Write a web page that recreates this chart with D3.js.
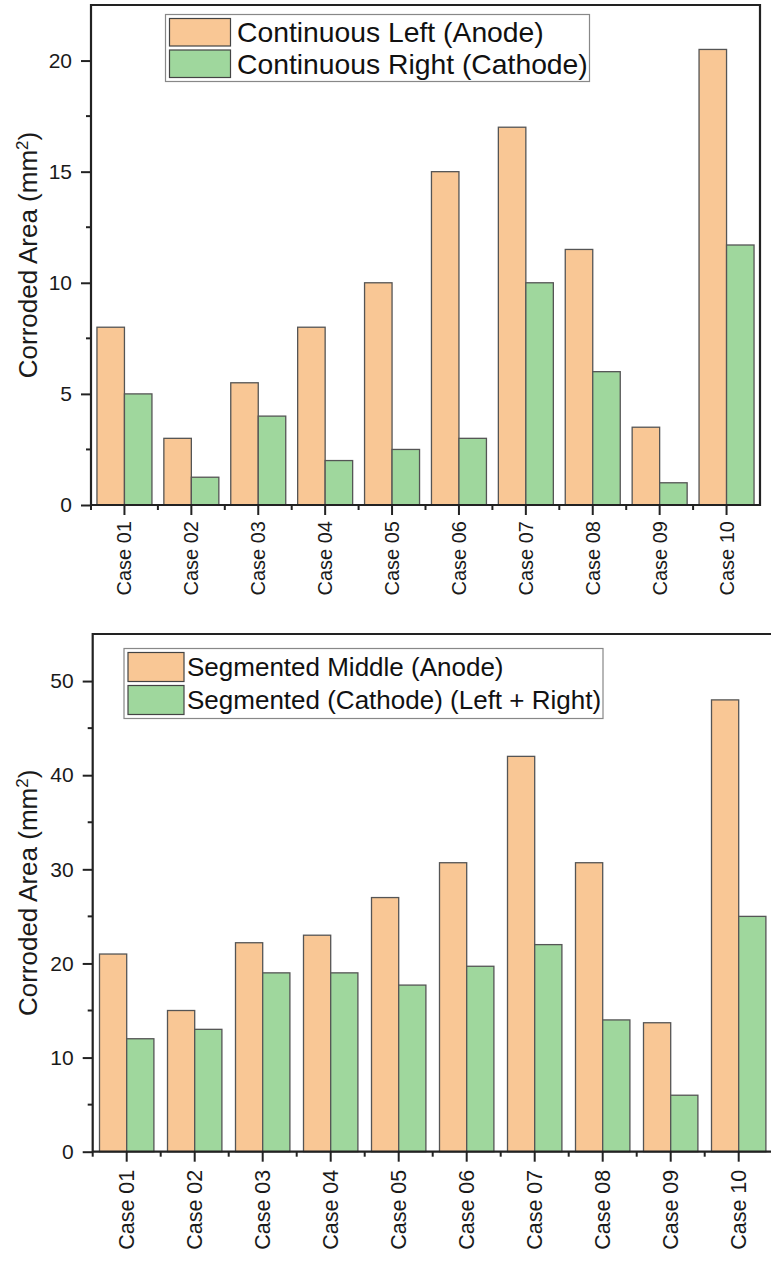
<!DOCTYPE html>
<html>
<head>
<meta charset="utf-8" />
<title>Corroded Area by Case</title>
<script src="https://cdnjs.cloudflare.com/ajax/libs/d3/7.8.5/d3.min.js"></script>
<style>
	body { margin: 0; background: #fff; }
	svg { display: block; font-family: "Liberation Sans", Arial, sans-serif; }
</style>
</head>
<body>
<svg id="chart" width="771" height="1269"></svg>
<script>
// data
const cases = ["Case 01", "Case 02", "Case 03", "Case 04", "Case 05", "Case 06", "Case 07", "Case 08", "Case 09", "Case 10"];

const contLeft  = [8, 3, 5.5, 8, 10, 15, 17, 11.5, 3.5, 20.5];
const contRight = [5, 1.25, 4, 2, 2.5, 3, 10, 6, 1, 11.7];

const segMiddle  = [21, 15, 22.2, 23, 27, 30.7, 42, 30.7, 13.7, 48];
const segCathode = [12, 13, 19, 19, 17.7, 19.7, 22, 14, 6, 25];

const topLegend = ["Continuous Left (Anode)", "Continuous Right (Cathode)"];
const bottomLegend = ["Segmented Middle (Anode)", "Segmented (Cathode) (Left + Right)"];

const topMajor = [0, 5, 10, 15, 20];
const topMinor = [2.5, 7.5, 12.5, 17.5];
const bottomMajor = [0, 10, 20, 30, 40, 50];
const bottomMinor = [5, 15, 25, 35, 45];

const colors = ["#f9c795", "#9fd79d"];

let svg = d3.select("#chart");

function drawPanel(p) {
	let g = svg.append("g");

	let x = d3.scaleBand()
		.domain(cases)
		.range([p.left, p.right])
		.paddingInner(p.pad)
		.paddingOuter(p.pad / 2);
	let sub = d3.scaleBand()
		.domain([0, 1])
		.range([0, x.bandwidth()]);
	let y = d3.scaleLinear()
		.domain(p.domain)
		.range([p.bottom, p.top]);

	// bars
	let series = [p.a, p.b];
	series.forEach(function(vals, s) {
		g.append("g").selectAll("rect")
			.data(vals)
			.enter()
			.append("rect")
			.attr("x", (d, i) => x(cases[i]) + sub(s))
			.attr("y", d => y(d))
			.attr("width", sub.bandwidth())
			.attr("height", d => y(0) - y(d))
			.attr("fill", colors[s])
			.attr("stroke", "#555")
			.attr("stroke-width", 1.3);
	});

	// y axis, major + minor
	let yAxis = d3.axisLeft(y)
		.tickValues(p.major)
		.tickSize(10)
		.tickPadding(9)
		.tickFormat(d3.format("d"));
	let ya = g.append("g")
		.attr("transform", `translate(${p.left},0)`)
		.call(yAxis);
	ya.select(".domain").remove();
	ya.selectAll("line").attr("stroke", "#222").attr("stroke-width", 2);
	ya.selectAll("text")
		.attr("font-size", 21)
		.attr("fill", "#1a1a1a")
		.attr("font-family", "Liberation Sans, Arial, sans-serif");

	g.append("g").selectAll("line")
		.data(p.minor)
		.enter()
		.append("line")
		.attr("x1", p.left - 5)
		.attr("x2", p.left)
		.attr("y1", d => y(d))
		.attr("y2", d => y(d))
		.attr("stroke", "#222")
		.attr("stroke-width", 2);

	// x axis ticks at the centre of every group and minor ones between groups
	g.append("g").selectAll("line")
		.data(cases)
		.enter()
		.append("line")
		.attr("x1", d => x(d) + x.bandwidth() / 2)
		.attr("x2", d => x(d) + x.bandwidth() / 2)
		.attr("y1", p.bottom)
		.attr("y2", p.bottom + 10)
		.attr("stroke", "#222")
		.attr("stroke-width", 2);

	let edges = cases.map(d => x(d) - x.step() * p.pad / 2);
	g.append("g").selectAll("line")
		.data(edges)
		.enter()
		.append("line")
		.attr("x1", d => d)
		.attr("x2", d => d)
		.attr("y1", p.bottom)
		.attr("y2", p.bottom + 5)
		.attr("stroke", "#222")
		.attr("stroke-width", 2);

	g.append("g").selectAll("text")
		.data(cases)
		.enter()
		.append("text")
		.attr("transform", d => `translate(${x(d) + x.bandwidth() / 2},${p.bottom + p.labelGap}) rotate(-90)`)
		.attr("text-anchor", "end")
		.attr("dy", "0.35em")
		.attr("font-size", p.caseSize)
		.attr("fill", "#1a1a1a")
		.text(d => d);

	// frame
	g.append("path")
		.attr("d", `M${p.left},${p.bottom}V${p.top}H${p.frameRight}V${p.bottom}Z`)
		.attr("fill", "none")
		.attr("stroke", "#222")
		.attr("stroke-width", 2.2);

	// axis title
	let title = g.append("text")
		.attr("transform", `translate(37,${(p.top + p.bottom) / 2}) rotate(-90)`)
		.attr("text-anchor", "middle")
		.attr("font-size", 26)
		.attr("fill", "#1a1a1a");
	title.append("tspan").text("Corroded Area (mm");
	title.append("tspan").attr("baseline-shift", "super").attr("font-size", 17).text("2");
	title.append("tspan").text(")");

	// legend
	let L = p.legend;
	let lg = g.append("g");
	lg.append("rect")
		.attr("x", L.x).attr("y", L.y)
		.attr("width", L.w).attr("height", L.h)
		.attr("fill", "#fff")
		.attr("stroke", "#888")
		.attr("stroke-width", 1.2);
	p.names.forEach(function(name, i) {
		let ry = L.y + 4 + i * L.row;
		lg.append("rect")
			.attr("x", L.x + 4).attr("y", ry)
			.attr("width", L.sw).attr("height", L.row - 4)
			.attr("fill", colors[i])
			.attr("stroke", "#444")
			.attr("stroke-width", 1.2);
		lg.append("text")
			.attr("x", L.tx)
			.attr("y", ry + (L.row - 4) / 2)
			.attr("dy", "0.36em")
			.attr("font-size", L.fs)
			.attr("fill", "#111")
			.text(name);
	});
}

drawPanel({
	a: contLeft, b: contRight, names: topLegend,
	left: 91, right: 760, frameRight: 760, top: 5, bottom: 505,
	domain: [0, 22.5], major: topMajor, minor: topMinor,
	pad: 0.178, labelGap: 16, caseSize: 20,
	legend: {x: 165.5, y: 14.5, w: 424, h: 67, row: 31.5, sw: 61, tx: 237, fs: 28.3}
});

drawPanel({
	a: segMiddle, b: segCathode, names: bottomLegend,
	left: 92.7, right: 772.7, frameRight: 776, top: 634, bottom: 1151.7,
	domain: [0, 55], major: bottomMajor, minor: bottomMinor,
	pad: 0.2, labelGap: 18, caseSize: 21.5,
	legend: {x: 124, y: 648.5, w: 479, h: 70, row: 33, sw: 56, tx: 187, fs: 26}
});
</script>
</body>
</html>
